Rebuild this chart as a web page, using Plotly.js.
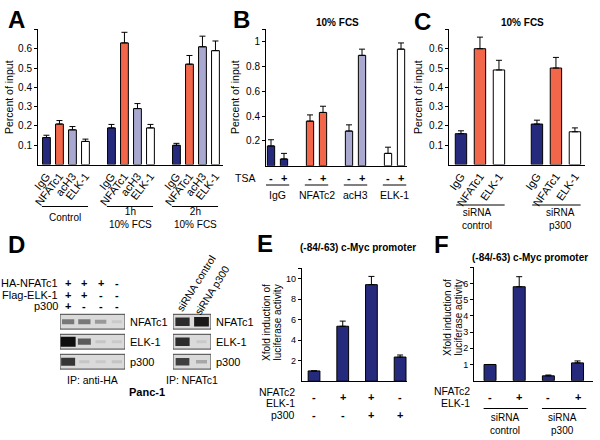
<!DOCTYPE html>
<html><head><meta charset="utf-8">
<script src="https://cdn.plot.ly/plotly-3.0.1.min.js"></script>
<style>html,body{margin:0;padding:0;background:#fff}#chart{width:600px;height:440px}</style>
</head><body><div id="chart"></div>
<script>
// ---------- Panel A ----------
const aGroups = ['Control', '1h<br>10% FCS', '2h<br>10% FCS'];
const aAntibodies = ['IgG', 'NFATc1', 'acH3', 'ELK-1'];
const aControl = [0.14, 0.21, 0.18, 0.12];
const aControlErr = [0.012, 0.018, 0.017, 0.012];
const a1h = [0.19, 0.63, 0.29, 0.19];
const a1hErr = [0.018, 0.055, 0.026, 0.018];
const a2h = [0.10, 0.52, 0.61, 0.59];
const a2hErr = [0.01, 0.045, 0.055, 0.05];
// ---------- Panel B ----------
const bTitle = '10% FCS';
const bAntibodies = ['IgG', 'NFATc2', 'acH3', 'ELK-1'];
const bTSA = ['-', '+'];
const bMinusTSA = [0.16, 0.36, 0.28, 0.10];
const bMinusErr = [0.05, 0.05, 0.05, 0.05];
const bPlusTSA = [0.055, 0.43, 0.89, 0.94];
const bPlusErr = [0.045, 0.05, 0.05, 0.05];
// ---------- Panel C ----------
const cTitle = '10% FCS';
const cAntibodies = ['IgG', 'NFATc1', 'ELK-1'];
const cGroups = ['siRNA<br>control', 'siRNA<br>p300'];
const cControl = [0.16, 0.60, 0.49];
const cControlErr = [0.015, 0.06, 0.05];
const cP300 = [0.21, 0.50, 0.17];
const cP300Err = [0.02, 0.055, 0.02];
// ---------- Panel D ----------
const dTransfections = ['HA-NFATc1', 'Flag-ELK-1', 'p300'];
const dHANFATc1 = ['+', '+', '+', '-'];
const dFlagELK1 = ['+', '+', '-', '-'];
const dP300 = ['+', '-', '-', '-'];
const dBlots = ['NFATc1', 'ELK-1', 'p300'];
const ipHA_NFATc1 = [0.45, 0.45, 0.28, 0.02];
const ipHA_ELK1 = [1.0, 0.6, 0.04, 0.02];
const ipHA_p300 = [0.8, 0.04, 0.02, 0.05];
const ipNF_lanes = ['siRNA control', 'siRNA p300'];
const ipNF_NFATc1 = [0.85, 0.95];
const ipNF_ELK1 = [0.85, 0.02];
const ipNF_p300 = [0.75, 0.2];
// ---------- Panel E ----------
const eTitle = '(-84/-63) c-Myc promoter';
const eNFATc2ELK1 = ['-', '+', '+', '-'];
const eP300 = ['-', '-', '+', '+'];
const eValues = [1, 5.35, 9.4, 2.35];
const eErr = [0, 0.5, 0.8, 0.2];
// ---------- Panel F ----------
const fTitle = '(-84/-63) c-Myc promoter';
const fNFATc2ELK1 = ['-', '+', '-', '+'];
const fGroups = ['siRNA<br>control', 'siRNA<br>p300'];
const fValues = [1, 5.8, 0.3, 1.1];
const fErr = [0, 0.62, 0.05, 0.12];

// ---------- helpers ----------
const W = 600, H = 440;
const px = x => x / W;
const py = y => 1 - y / H;
const FONT = 'Liberation Sans, Arial, Helvetica, sans-serif';
const COL = {IgG: '#262a7c', NFATc1: '#f26649', NFATc2: '#f26649', acH3: '#a8a8d0', 'ELK-1': '#ffffff'};
const zeros = n => new Array(n).fill(0);
const f = (s, b) => ({family: FONT, size: s, color: '#000'});

const traces = [];
const shapes = [];
const annotations = [];
function ann(text, x, y, o) {
  annotations.push(Object.assign({text: text, x: x, y: y, xref: 'paper', yref: 'paper', showarrow: false,
    xanchor: 'center', yanchor: 'middle', font: f(10)}, o || {}));
}
function hline(xref, x0, x1, y) {
  shapes.push({type: 'line', xref: xref, yref: 'paper', x0: x0, x1: x1, y0: y, y1: y, line: {color: '#000', width: 1}});
}
function barTrace(xa, ya, x, y, err, colors, width) {
  return {type: 'bar', x: x, y: y, xaxis: xa, yaxis: ya, width: width,
    marker: {color: colors, line: {color: '#000', width: 1}},
    error_y: {type: 'data', symmetric: false, array: err, arrayminus: zeros(err.length), color: '#000', thickness: 1, width: 3},
    hoverinfo: 'none'};
}

// Panel A bars
const aTicks = {vals: [], text: []};
(function () {
  const vals = [aControl, a1h, a2h], errs = [aControlErr, a1hErr, a2hErr];
  const x = [], y = [], e = [], c = [];
  vals.forEach((g, gi) => g.forEach((v, i) => {
    x.push(gi * 5 + i); y.push(v); e.push(errs[gi][i]); c.push(COL[aAntibodies[i]]);
    aTicks.vals.push(gi * 5 + i); aTicks.text.push(aAntibodies[i]);
  }));
  traces.push(barTrace('x', 'y', x, y, e, c, 0.6));
  aGroups.forEach((g, gi) => {
    hline('x', gi * 5 - 0.35, gi * 5 + 3.2, py(206.5));
    ann(g, gi * 5 + 1.45, py(217.5), {xref: 'x'});
  });
})();

// Panel B bars
(function () {
  const x = [], y = [], e = [], c = [];
  bAntibodies.forEach((ab, k) => {
    [bMinusTSA, bPlusTSA].forEach((arr, j) => {
      x.push(k * 3 + j); y.push(arr[k]); e.push([bMinusErr, bPlusErr][j][k]); c.push(COL[ab]);
      ann('<b>' + bTSA[j] + '</b>', k * 3 + j, py(178), {xref: 'x2', font: f(11)});
    });
    hline('x2', k * 3 - 0.4, k * 3 + 1.4, py(185));
    ann(ab, k * 3 + 0.5, py(195), {xref: 'x2', font: f(10.5)});
  });
  traces.push(barTrace('x2', 'y2', x, y, e, c, 0.56));
  ann('TSA', px(245), py(178), {font: f(10.5)});
  ann('<b>' + bTitle + '</b>', px(337), py(23));
})();

// Panel C bars
const cTicks = {vals: [], text: []};
(function () {
  const vals = [cControl, cP300], errs = [cControlErr, cP300Err];
  const x = [], y = [], e = [], c = [];
  vals.forEach((g, gi) => g.forEach((v, i) => {
    x.push(gi * 4 + i); y.push(v); e.push(errs[gi][i]); c.push(COL[cAntibodies[i]]);
    cTicks.vals.push(gi * 4 + i); cTicks.text.push(cAntibodies[i]);
  }));
  traces.push(barTrace('x3', 'y3', x, y, e, c, 0.6));
  cGroups.forEach((g, gi) => {
    hline('x3', gi * 4 - 0.25, gi * 4 + 2.3, py(205));
    ann(g, gi * 4 + 0.85 + gi * 0.4, py(219.5), {xref: 'x3'});
  });
  ann('<b>' + cTitle + '</b>', px(522), py(23));
})();

// Panel E bars
(function () {
  const x = eValues.map((v, i) => i);
  traces.push(barTrace('x4', 'y4', x, eValues, eErr, eValues.map(() => COL.IgG), 0.41));
  x.forEach(i => {
    ann('<b>' + eNFATc2ELK1[i] + '</b>', i, py(397), {xref: 'x4', font: f(11)});
    ann('<b>' + eP300[i] + '</b>', i, py(415), {xref: 'x4', font: f(11)});
  });
  ann('NFATc2', px(297), py(391.5), {xanchor: 'right', font: f(10.5)});
  ann('ELK-1', px(297), py(402.5), {xanchor: 'right', font: f(10.5)});
  ann('p300', px(297), py(415), {xanchor: 'right', font: f(10.5)});
  ann('<b>' + eTitle + '</b>', px(358), py(247));
})();

// Panel F bars
(function () {
  const x = fValues.map((v, i) => i);
  traces.push(barTrace('x5', 'y5', x, fValues, fErr, fValues.map(() => COL.IgG), 0.41));
  x.forEach(i => {
    ann('<b>' + fNFATc2ELK1[i] + '</b>', i, py(397), {xref: 'x5', font: f(11)});
  });
  fGroups.forEach((g, gi) => {
    hline('x5', gi * 2 - 0.22, gi * 2 + 1.3, py(408.5));
    ann(g, gi * 2 + 0.5, py(423.5), {xref: 'x5'});
  });
  ann('NFATc2', px(472), py(391), {xanchor: 'right', font: f(10.5)});
  ann('ELK-1', px(472), py(402.5), {xanchor: 'right', font: f(10.5)});
  ann('<b>' + fTitle + '</b>', px(530), py(257));
})();

// Panel D blots: bands drawn as bars on hidden blot axes
function bandTrace(xa, ya, rows, lanePx) {
  const x = [], base = [], h = [], col = [], w = [];
  rows.forEach((r, ri) => r.forEach((v, li) => {
    const t = (3 + 7 * Math.pow(v, 1.5)) / 20;
    x.push(li); base.push(ri - t / 2); h.push(t);
    const g = Math.round(205 - 190 * v);
    col.push('rgb(' + g + ',' + g + ',' + g + ')');
    w.push((10 + 5 * v) / lanePx);
  }));
  return {type: 'bar', x: x, y: h, base: base, width: w, xaxis: xa, yaxis: ya, hoverinfo: 'none',
    marker: {color: col, line: {width: 0}}};
}
traces.push(bandTrace('x6', 'y6', [ipHA_NFATc1, ipHA_ELK1, ipHA_p300], 16.25));
traces.push(bandTrace('x7', 'y7', [ipNF_NFATc1, ipNF_ELK1, ipNF_p300], 19));
dBlots.forEach((b, r) => {
  [['x6', 'y6', -0.5, 3.5], ['x7', 'y7', -0.5, 1.5]].forEach(a => {
    shapes.push({type: 'rect', xref: a[0], yref: a[1], x0: a[2], x1: a[3], y0: r - 0.37, y1: r + 0.37,
      fillcolor: '#dadada', line: {color: '#444', width: 1}, layer: 'below'});
  });
  ann(b, px(128), r, {yref: 'y6', xanchor: 'left', font: f(11)});
  ann(b, px(214), r, {yref: 'y7', xanchor: 'left', font: f(11)});
});
[dHANFATc1, dFlagELK1, dP300].forEach((row, ri) => {
  ann(dTransfections[ri], px(60), py(283 + ri * 11.7), {xanchor: 'right', font: f(11)});
  row.forEach((v, li) => ann('<b>' + v + '</b>', li, py(283 + ri * 11.7), {xref: 'x6', font: f(11)}));
});
ann(ipNF_lanes[0], px(196), py(283), {textangle: -58, font: f(10.5)});
ann(ipNF_lanes[1], px(212), py(290), {textangle: -58, font: f(10.5)});
ann('IP: anti-HA', px(92), py(380), {font: f(10.5)});
ann('IP: NFATc1', px(192), py(380), {font: f(10.5)});
ann('<b>Panc-1</b>', px(147), py(392), {font: f(11)});

// Axis titles
ann('Percent of input', px(9), py(97), {textangle: -90, font: f(10.5)});
ann('Percent of input', px(235), py(97), {textangle: -90, font: f(10.5)});
ann('Percent of input', px(418), py(97), {textangle: -90, font: f(10.5)});
ann('Xfold induction of', px(266), py(323), {textangle: -90, font: f(10)});
ann('luciferase activity', px(276.5), py(323), {textangle: -90, font: f(10)});
ann('Xfold induction of', px(447), py(318), {textangle: -90, font: f(10)});
ann('luciferase activity', px(457.5), py(318), {textangle: -90, font: f(10)});

// Panel letters
[['A', 16, 20], ['B', 241, 20], ['C', 422, 21], ['D', 16, 245], ['E', 265, 243], ['F', 441, 244]].forEach(l => {
  ann('<b>' + l[0] + '</b>', px(l[1]), py(l[2]), {font: f(24)});
});

// Axes
const baseX = {showgrid: false, zeroline: false, showline: true, linecolor: '#000', linewidth: 1, ticks: '',
  fixedrange: true, tickfont: f(11)};
const baseY = {showgrid: false, zeroline: false, showline: true, linecolor: '#000', linewidth: 1, ticks: 'outside',
  ticklen: 3, tickcolor: '#000', tickwidth: 1, fixedrange: true, tickfont: f(10)};
const hidden = {visible: false, showgrid: false, zeroline: false, fixedrange: true};

const layout = {
  width: W, height: H, margin: {l: 0, r: 0, t: 0, b: 0}, showlegend: false, barmode: 'overlay',
  paper_bgcolor: '#fff', plot_bgcolor: 'rgba(0,0,0,0)', font: {family: FONT, color: '#000'},
  xaxis: Object.assign({}, baseX, {domain: [px(38), px(223)], range: [-0.65, 13.58], anchor: 'y',
    tickmode: 'array', tickvals: aTicks.vals, ticktext: aTicks.text, tickangle: -52}),
  yaxis: Object.assign({}, baseY, {domain: [py(164.6), py(29.4)], range: [0, 0.7], anchor: 'x',
    tickmode: 'array', tickvals: [0.1, 0.2, 0.3, 0.4, 0.5, 0.6, 0.7], ticktext: ['0.1', '0.2', '0.3', '0.4', '0.5', '0.6', '']}),
  xaxis2: Object.assign({}, baseX, {domain: [px(266), px(407)], range: [-0.385, 10.46], anchor: 'y2', showticklabels: false}),
  yaxis2: Object.assign({}, baseY, {domain: [py(165.8), py(29.3)], range: [0, 1.1], anchor: 'x2',
    tickmode: 'array', tickvals: [0.2, 0.4, 0.6, 0.8, 1, 1.1], ticktext: ['0.2', '0.4', '0.6', '0.8', '1', '']}),
  xaxis3: Object.assign({}, baseX, {domain: [px(449), px(585)], range: [-0.63, 6.53], anchor: 'y3',
    tickmode: 'array', tickvals: cTicks.vals, ticktext: cTicks.text, tickangle: -55}),
  yaxis3: Object.assign({}, baseY, {domain: [py(164.6), py(29.4)], range: [0, 0.7], anchor: 'x3',
    tickmode: 'array', tickvals: [0.1, 0.2, 0.3, 0.4, 0.5, 0.6, 0.7], ticktext: ['0.1', '0.2', '0.3', '0.4', '0.5', '0.6', '']}),
  xaxis4: Object.assign({}, baseX, {domain: [px(301.7), px(407)], range: [-0.43, 3.24], anchor: 'y4', showticklabels: false}),
  yaxis4: Object.assign({}, baseY, {domain: [py(381.2), py(268.2)], range: [0, 11], anchor: 'x4',
    tickfont: f(9), tickmode: 'array', tickvals: [2, 4, 6, 8, 10, 11], ticktext: ['2', '4', '6', '8', '10', '']}),
  xaxis5: Object.assign({}, baseX, {domain: [px(474), px(593)], range: [-0.55, 3.53], anchor: 'y5', showticklabels: false}),
  yaxis5: Object.assign({}, baseY, {domain: [py(380.7), py(267.3)], range: [0, 7], anchor: 'x5',
    tickfont: f(9), tickmode: 'array', tickvals: [1, 2, 3, 4, 5, 6, 7], ticktext: ['1', '2', '3', '4', '5', '6', '']}),
  xaxis6: Object.assign({}, hidden, {domain: [px(60), px(125)], range: [-0.5, 3.5], anchor: 'y6'}),
  yaxis6: Object.assign({}, hidden, {domain: [py(371.7), py(311.7)], range: [2.5, -0.5], anchor: 'x6'}),
  xaxis7: Object.assign({}, hidden, {domain: [px(173), px(211)], range: [-0.5, 1.5], anchor: 'y7'}),
  yaxis7: Object.assign({}, hidden, {domain: [py(371.7), py(311.7)], range: [2.5, -0.5], anchor: 'x7'}),
  shapes: shapes,
  annotations: annotations
};
Plotly.newPlot('chart', traces, layout, {staticPlot: true, displayModeBar: false});
</script>
</body></html>
